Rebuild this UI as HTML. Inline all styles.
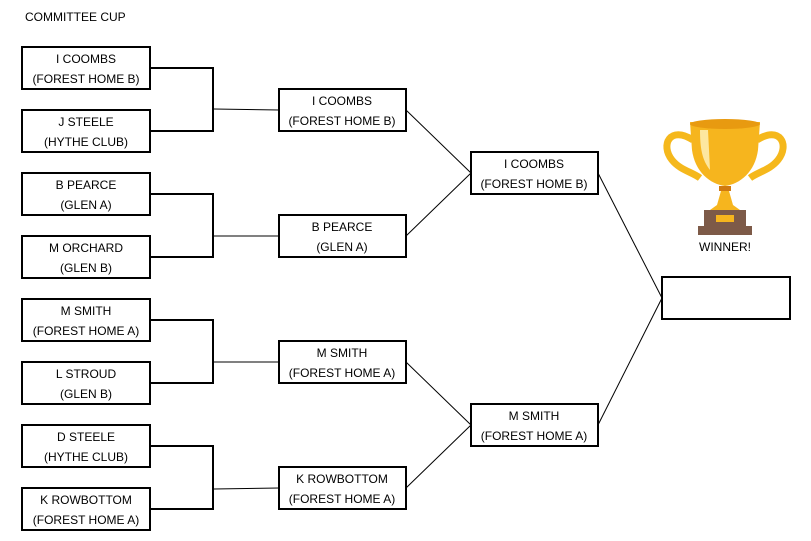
<!DOCTYPE html>
<html><head><style>body{margin:0;background:#fff}svg{display:block}text{font-family:"Liberation Sans",sans-serif;font-size:12px;fill:#000;text-anchor:middle}</style></head><body>
<svg width="811" height="541" viewBox="0 0 811 541">
<text x="25" y="21" style="text-anchor:start">COMMITTEE CUP</text>
<g fill="none" stroke="#000" stroke-width="2">
<rect x="22" y="47" width="128" height="42"/>
<rect x="22" y="110" width="128" height="42"/>
<rect x="22" y="173" width="128" height="42"/>
<rect x="22" y="236" width="128" height="42"/>
<rect x="22" y="299" width="128" height="42"/>
<rect x="22" y="362" width="128" height="42"/>
<rect x="22" y="425" width="128" height="42"/>
<rect x="22" y="488" width="128" height="42"/>
<rect x="279" y="89" width="127" height="42"/>
<rect x="279" y="215" width="127" height="42"/>
<rect x="279" y="341" width="127" height="42"/>
<rect x="279" y="467" width="127" height="42"/>
<rect x="471" y="152" width="127" height="42"/>
<rect x="471" y="404" width="127" height="42"/>
<rect x="662" y="277" width="128" height="42"/>
<polyline points="150,68 213,68 213,131 150,131"/>
<polyline points="150,194 213,194 213,257 150,257"/>
<polyline points="150,320 213,320 213,383 150,383"/>
<polyline points="150,446 213,446 213,509 150,509"/>
</g>
<g stroke="#000" stroke-width="1">
<line x1="214" y1="109" x2="279" y2="110"/>
<line x1="214" y1="236" x2="279" y2="236"/>
<line x1="214" y1="362" x2="279" y2="362"/>
<line x1="214" y1="489" x2="279" y2="488"/>
<line x1="406" y1="110" x2="471" y2="173"/>
<line x1="406" y1="236" x2="471" y2="173"/>
<line x1="406" y1="362" x2="471" y2="425"/>
<line x1="406" y1="488" x2="471" y2="425"/>
<line x1="598" y1="173" x2="662" y2="298"/>
<line x1="598" y1="425" x2="662" y2="298"/>
</g>
<g>
<text x="86" y="63">I COOMBS</text><text x="86" y="83">(FOREST HOME B)</text>
<text x="86" y="126">J STEELE</text><text x="86" y="146">(HYTHE CLUB)</text>
<text x="86" y="189">B PEARCE</text><text x="86" y="209">(GLEN A)</text>
<text x="86" y="252">M ORCHARD</text><text x="86" y="272">(GLEN B)</text>
<text x="86" y="315">M SMITH</text><text x="86" y="335">(FOREST HOME A)</text>
<text x="86" y="378">L STROUD</text><text x="86" y="398">(GLEN B)</text>
<text x="86" y="441">D STEELE</text><text x="86" y="461">(HYTHE CLUB)</text>
<text x="86" y="504">K ROWBOTTOM</text><text x="86" y="524">(FOREST HOME A)</text>
<text x="342" y="105">I COOMBS</text><text x="342" y="125">(FOREST HOME B)</text>
<text x="342" y="231">B PEARCE</text><text x="342" y="251">(GLEN A)</text>
<text x="342" y="357">M SMITH</text><text x="342" y="377">(FOREST HOME A)</text>
<text x="342" y="483">K ROWBOTTOM</text><text x="342" y="503">(FOREST HOME A)</text>
<text x="534" y="168">I COOMBS</text><text x="534" y="188">(FOREST HOME B)</text>
<text x="534" y="420">M SMITH</text><text x="534" y="440">(FOREST HOME A)</text>
<text x="725" y="251">WINNER!</text>
</g>
<g>
<path d="M693 140 C670 125 660 145 672 160 C680 170 692 172 700 178" fill="none" stroke="#f5b81c" stroke-width="7"/>
<path d="M757 140 C780 125 790 145 778 160 C770 170 758 172 750 178" fill="none" stroke="#f5b81c" stroke-width="7"/>
<path d="M690 122 L760 122 L758 150 C755 172 740 184 725 186 C710 184 695 172 692 150 Z" fill="#f6b51e"/>
<ellipse cx="725" cy="124" rx="35" ry="5" fill="#e89a10"/>
<path d="M700 130 L708 130 L710 170 C702 160 700 148 700 130Z" fill="#fde7a0"/>
<rect x="719" y="186" width="12" height="5" fill="#d07a10"/>
<path d="M721 191 L729 191 L733 205 L740 210 L710 210 L717 205 Z" fill="#f6b51e"/>
<rect x="704" y="210" width="42" height="16" fill="#7d5a48"/>
<rect x="698" y="226" width="54" height="9" fill="#7d5a48"/>
<rect x="716" y="215" width="18" height="7" fill="#f6b51e"/>
</g>
</svg>
</body></html>
